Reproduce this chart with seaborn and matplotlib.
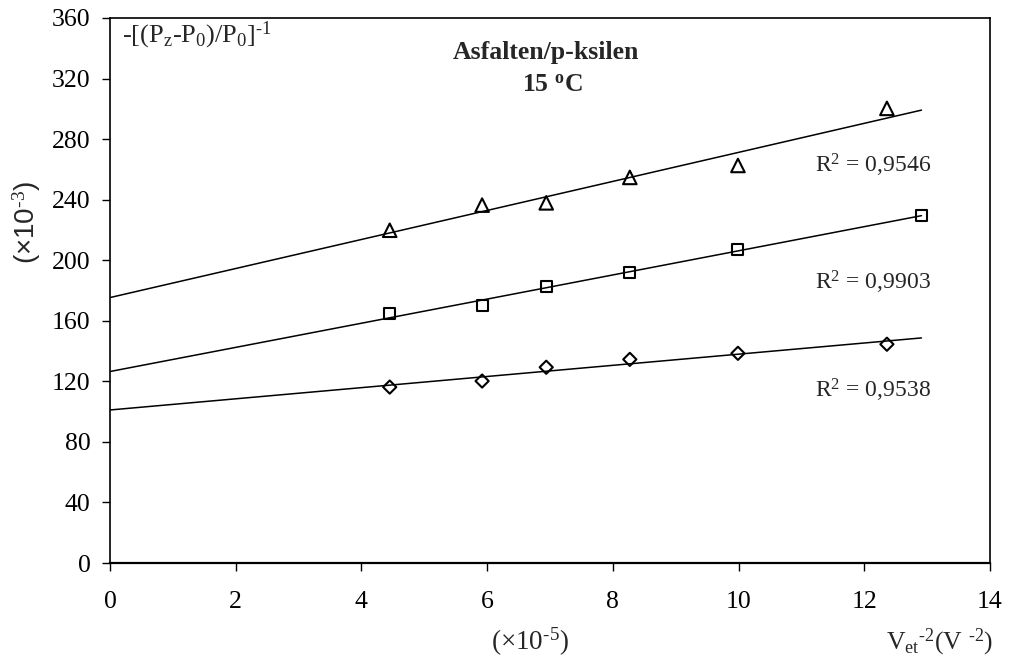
import numpy as np
import pandas as pd
import matplotlib
matplotlib.use("Agg")
import matplotlib.pyplot as plt
import seaborn as sns

# ---- data ----
x_tri = [4.45, 5.92, 6.94, 8.27, 9.99, 12.36]
y_tri = [219.8, 236.4, 237.9, 254.7, 262.6, 300.3]
x_sq = [4.45, 5.92, 6.94, 8.27, 9.99, 12.91]
y_sq = [164.5, 170.0, 182.5, 192.1, 206.8, 229.6]
x_di = [4.45, 5.92, 6.94, 8.27, 9.99, 12.36]
y_di = [116.2, 120.2, 129.3, 134.5, 138.5, 144.5]
r2_labels = ["0,9546", "0,9903", "0,9538"]
x_ticks = [0, 2, 4, 6, 8, 10, 12, 14]
y_ticks = [0, 40, 80, 120, 160, 200, 240, 280, 320, 360]

sns.set_style("white")
plt.rcParams["font.family"] = ["Liberation Serif", "DejaVu Serif"]
plt.rcParams["mathtext.fontset"] = "custom"
plt.rcParams["mathtext.rm"] = "Liberation Serif"
plt.rcParams["mathtext.it"] = "Liberation Serif:italic"
plt.rcParams["mathtext.bf"] = "Liberation Serif:bold"
plt.rcParams["mathtext.sf"] = "Liberation Sans"

fig = plt.figure(figsize=(10.09, 6.61), dpi=100)
ax = fig.add_axes([110 / 1009, 1 - 563 / 661, 880 / 1009, 545 / 661])

x_end = max(max(x_tri), max(x_sq), max(x_di))
series = [(x_tri, y_tri, "^", 95), (x_sq, y_sq, "s", 62), (x_di, y_di, "D", 45)]
for xs, ys, mk, sz in series:
    slope, icpt = np.polyfit(xs, ys, 1)
    xf = np.array([0.0, x_end])
    sns.lineplot(x=xf, y=icpt + slope * xf, ax=ax, color="black", linewidth=1.1)
    sns.scatterplot(x=xs, y=ys, ax=ax, marker=mk, s=sz, facecolor="none",
                    edgecolor="black", linewidth=1.5, zorder=3)

ax.set_xlim(0, 14)
ax.set_ylim(0, 360)
ax.set_xticks(x_ticks)
ax.set_yticks(y_ticks)
ax.tick_params(axis="both", direction="out", labelsize=18.5, colors="black")
ax.tick_params(axis="y", length=6, width=1, pad=8, left=True)
ax.tick_params(axis="x", length=6, width=1, pad=14, bottom=True)
for s in ax.spines.values():
    s.set_color("black")
    s.set_linewidth(1.2)
ax.spines["bottom"].set_linewidth(1.6)

# annotations
ax.text(0.19, 344, r"-[(P$_\mathrm{z}$-P$_0$)/P$_0$]$^{\text{-1}}$", fontsize=19,
        ha="left", va="baseline")
ax.text(6.94, 337.5, "Asfalten/p-ksilen", fontsize=18.5, fontweight="bold",
        ha="center", va="center")
ax.text(7.03, 315.7, r"15 $^\mathbf{o}$C", fontsize=18.5, fontweight="bold",
        ha="center", va="center")
for lab, yy in zip(r2_labels, [262.8, 185.5, 114.0]):
    ax.text(13.06, yy, r"R$^2$ = " + lab, fontsize=17, ha="right", va="center")

fig.text(27 / 1009, 1 - 223 / 661, r"(×10$^{\mathsf{\text{-3}}}$)", rotation=90,
         fontsize=20, ha="center", va="center", family=["Liberation Sans", "DejaVu Sans"])
fig.text(530 / 1009, 1 - 642 / 661, r"(×10$^{\text{-5}}$)", fontsize=19.5,
         ha="center", va="center")
fig.text(993 / 1009, 1 - 642 / 661, r"V$_\mathrm{et}$$^{\text{-2}}$(V $^{\text{-2}}$)", fontsize=18.5,
         ha="right", va="center")

fig.savefig("out.png", dpi=100)
